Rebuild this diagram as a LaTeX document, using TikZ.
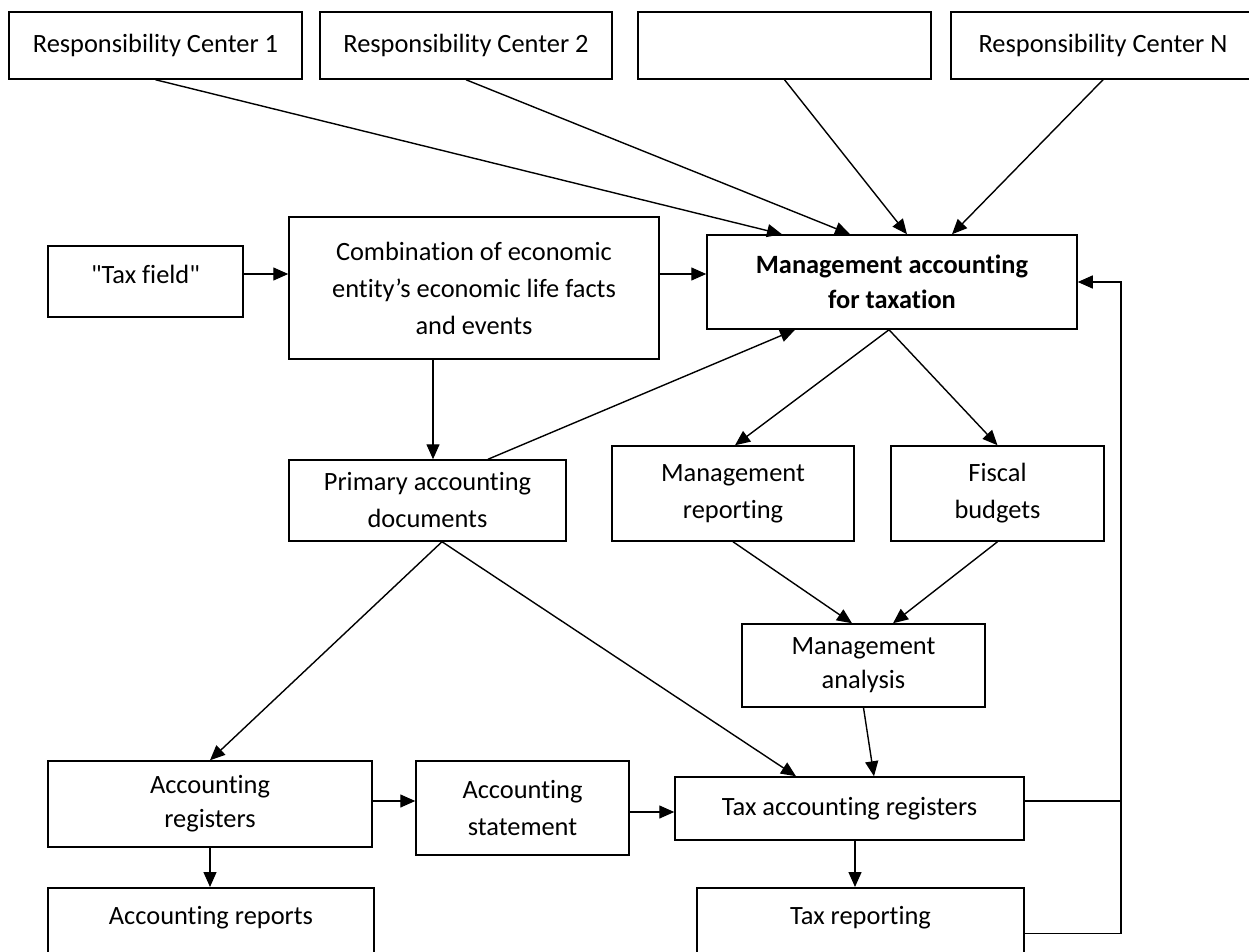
\documentclass[tikz,border=0pt]{standalone}
\usepackage{fontspec}
\setmainfont[Ligatures={NoCommon}]{Carlito}
\usetikzlibrary{arrows.meta,calc}
\begin{document}
\begin{tikzpicture}[x=1pt,y=-1pt,
  box/.style={draw, line width=1.5pt, inner sep=0pt, align=center, font=\fontsize{26.4}{37}\selectfont},
  arr/.style={line width=1.4pt, -{Triangle[length=15pt,width=13pt]}},
  ln/.style={line width=1.4pt}]
\useasboundingbox (0,0) rectangle (1249,952);
% top row
\node[box, minimum width=293pt, minimum height=67pt] (rc1) at (155.5,45.5) {Responsibility Center 1};
\node[box, minimum width=292pt, minimum height=67pt] (rc2) at (466,45.5) {Responsibility Center 2};
\node[box, minimum width=293pt, minimum height=67pt] (rcx) at (784.5,45.5) {};
\node[box, minimum width=304pt, minimum height=67pt] (rcn) at (1103,45.5) {Responsibility Center N};
% middle
\node[box, minimum width=195pt, minimum height=71pt, text depth=14pt] (tf) at (145.5,281.5) {\textquotedbl Tax field\textquotedbl};
\node[box, minimum width=370pt, minimum height=142pt] (comb) at (474,288) {Combination of economic\\entity’s economic life facts\\and events};
\node[box, minimum width=370pt, minimum height=94pt, font=\fontsize{26.4}{35}\selectfont\bfseries] (mat) at (892,282) {Management accounting\\for taxation};
\node[box, minimum width=277pt, minimum height=81pt] (prim) at (427.5,500.5) {Primary accounting\\documents};
\node[box, minimum width=242pt, minimum height=95pt] (mr) at (733,493.5) {Management\\reporting};
\node[box, minimum width=213pt, minimum height=95pt] (fis) at (997.5,493.5) {Fiscal\\budgets};
\node[box, minimum width=243pt, minimum height=83pt, font=\fontsize{26.4}{34}\selectfont] (ana) at (863.5,665.5) {Management\\analysis};
% bottom
\node[box, minimum width=324pt, minimum height=86pt, font=\fontsize{26.4}{34}\selectfont] (ar) at (210,804) {Accounting\\registers};
\node[box, minimum width=213pt, minimum height=94pt] (as) at (522.5,808) {Accounting\\statement};
\node[box, minimum width=349pt, minimum height=63pt] (tar) at (849.5,808.5) {Tax accounting registers};
\node[box, minimum width=326pt, text height=37pt, text depth=40pt, anchor=north] (arep) at (211,887) {Accounting reports};
\node[box, minimum width=327pt, text height=37pt, text depth=40pt, anchor=north] (trep) at (860.5,887) {Tax reporting};
\coordinate (fb) at (1121,282);
% connectors from top row
\draw[arr] (rc1.south) -- ([xshift=-110pt]mat.north);
\draw[arr] (rc2.south) -- ([xshift=-42pt]mat.north);
\draw[arr] (rcx.south) -- ([xshift=15pt]mat.north);
\draw[arr] (rcn.south) -- ([xshift=60pt]mat.north);
% middle connectors
\draw[arr] ([yshift=7.5pt]tf.east) -- ([yshift=7.5pt]tf.east -| comb.west);
\draw[arr] ([yshift=14pt]comb.east) -- ([yshift=14pt]comb.east -| mat.west);
\draw[arr] ([xshift=-41pt]comb.south) -- ([xshift=-41pt]comb.south |- prim.north);
\draw[arr] ([xshift=60.5pt]prim.north) -- ([xshift=-97pt]mat.south);
\draw[arr] ([xshift=-3pt]mat.south) -- ([xshift=2pt]mr.north);
\draw[arr] ([xshift=-3pt]mat.south) -- (fis.north);
\draw[arr] (mr.south) -- ([xshift=-11.5pt]ana.north);
\draw[arr] (fis.south) -- ([xshift=29.5pt]ana.north);
\draw[arr] ([xshift=14.5pt]prim.south) -- (ar.north);
\draw[arr] ([xshift=14.5pt]prim.south) -- ([xshift=-53.5pt]tar.north);
\draw[arr] (ana.south) -- ([xshift=24.5pt]tar.north);
% bottom connectors
\draw[arr] ([yshift=3pt]ar.east) -- ([yshift=3pt]ar.east -| as.west);
\draw[arr] ([yshift=-4pt]as.east) -- ([yshift=-4pt]as.east -| tar.west);
\draw[arr] (ar.south) -- (ar.south |- arep.north);
\draw[arr] ([xshift=5.5pt]tar.south) -- ([xshift=5.5pt]tar.south |- trep.north);
% feedback
\draw[ln] ([yshift=7.5pt]tar.east) -- ([yshift=7.5pt]tar.east -| fb);
\draw[arr] ([yshift=-7.5pt]trep.east) -| (fb) -- (mat.east);
\end{tikzpicture}
\end{document}
